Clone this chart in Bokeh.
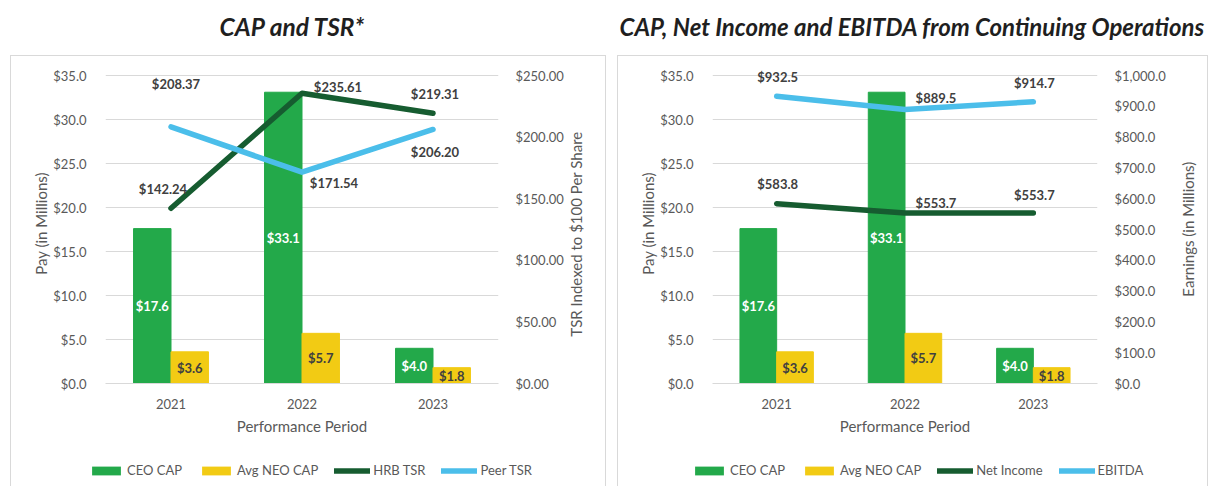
import math
import pandas as pd
from bokeh.plotting import figure
from bokeh.models import (ColumnDataSource, Range1d, LinearAxis, NumeralTickFormatter,
                          SingleIntervalTicker, FixedTicker, Legend, LegendItem, Spacer,
                          FactorRange)
from bokeh.transform import dodge
from bokeh.layouts import row, column
from bokeh.embed import file_html
from bokeh.resources import INLINE
from bokeh.core.properties import value

# ---------------- data ----------------
years = ["2021", "2022", "2023"]
ceo_cap = [17.6, 33.1, 4.0]
neo_cap = [3.6, 5.7, 1.8]
hrb_tsr = [142.24, 235.61, 219.31]
peer_tsr = [208.37, 171.54, 206.20]
net_income = [583.8, 553.7, 553.7]
ebitda = [932.5, 889.5, 914.7]

# ---------------- style ----------------
FONT = "Lato"
C_CEO = "#23A94A"
C_NEO = "#F2CB14"
C_DARK = "#165C30"
C_BLUE = "#4BBEEA"
GRID = "#D9D9D9"
TXT = "#595959"
LBL = "#404040"
BORDER = "1px solid #D9D9D9"

TITLE_H = 55
MAIN_H = 387
LEG_H = 44
FRAME_H = 320      # frame height in px
TOP_PAD = 12       # px of frame above the top gridline (room for labels)
MB_TOP = 7
PAY_MAX = 35
SCALE = FRAME_H / (FRAME_H - TOP_PAD)


def build_panel(title, title_offset, title_size, width, mb_left, mb_right,
                l1_name, l1_vals, l1_fmt, l1_off,
                l2_name, l2_vals, l2_fmt, l2_off,
                r_end, r_step, r_fmt, r_std, r_title, r_title_at, r_title_standoff,
                legend_x):
    src = pd.DataFrame({
        "year": years, "ceo": ceo_cap, "neo": neo_cap,
        "ceo_mid": [v / 2 for v in ceo_cap], "neo_mid": [v / 2 for v in neo_cap],
        "ceo_lbl": [f"${v:.1f}" for v in ceo_cap],
        "neo_lbl": [f"${v:.1f}" for v in neo_cap],
        "l1": l1_vals, "l2": l2_vals,
        "l1_lbl": [l1_fmt.format(v) for v in l1_vals],
        "l2_lbl": [l2_fmt.format(v) for v in l2_vals],
        "l1_dx": [o[0] for o in l1_off], "l1_dy": [o[1] for o in l1_off],
        "l2_dx": [o[0] for o in l2_off], "l2_dy": [o[1] for o in l2_off],
    })
    source = ColumnDataSource(src)

    # ---- title strip
    tf = figure(width=width + 2, height=TITLE_H, title=title, toolbar_location=None,
                output_backend="svg", x_axis_location=None, y_axis_location=None,
                min_border=0, min_border_top=42, outline_line_color=None)
    tf.grid.visible = False
    tf.title.align = "left"
    tf.title.offset = title_offset
    tf.title.text_font = FONT
    tf.title.text_font_style = "bold italic"
    tf.title.text_font_size = title_size
    tf.title.text_color = "#1F1F1F"
    tf.title.standoff = 4

    # ---- main chart
    p = figure(width=width, height=MAIN_H, x_range=years,
               y_range=Range1d(0, PAY_MAX * SCALE),
               toolbar_location=None, output_backend="svg",
               min_border_left=mb_left, min_border_right=mb_right,
               min_border_top=MB_TOP, min_border_bottom=MAIN_H - MB_TOP - FRAME_H,
               outline_line_color=None)
    p.styles = {"border-left": BORDER, "border-right": BORDER, "border-top": BORDER}
    p.extra_y_ranges = {"r": Range1d(0, r_end * SCALE)}

    p.vbar(x=dodge("year", -0.143, range=p.x_range), top="ceo", width=0.286,
           source=source, fill_color=C_CEO, line_color=C_CEO)
    p.vbar(x=dodge("year", 0.143, range=p.x_range), top="neo", width=0.286,
           source=source, fill_color=C_NEO, line_color=C_NEO)
    p.line(x="year", y="l1", source=source, y_range_name="r",
           line_color=C_DARK, line_width=5.5, line_cap="round", line_join="round")
    p.line(x="year", y="l2", source=source, y_range_name="r",
           line_color=C_BLUE, line_width=5.5, line_cap="round", line_join="round")

    # bar labels
    p.text(x=dodge("year", -0.143, range=p.x_range), y="ceo_mid", text="ceo_lbl",
           source=source, text_align="center", text_baseline="middle",
           text_font=value(FONT), text_font_style="bold", text_font_size="13px",
           text_color="white")
    p.text(x=dodge("year", 0.143, range=p.x_range), y="neo_mid", text="neo_lbl",
           source=source, text_align="center", text_baseline="middle",
           text_font=value(FONT), text_font_style="bold", text_font_size="13px",
           text_color=LBL)
    # line labels
    for col in ("l1", "l2"):
        p.text(x="year", y=col, text=col + "_lbl", source=source, y_range_name="r",
               x_offset=col + "_dx", y_offset=col + "_dy",
               text_align="center", text_baseline="middle",
               text_font=value(FONT), text_font_style="bold", text_font_size="13px",
               text_color=LBL)

    # axes
    yl = p.yaxis[0]
    yl.ticker = SingleIntervalTicker(interval=5)
    yl.formatter = NumeralTickFormatter(format="$0.0")
    yl.axis_label = "Pay (in Millions)"
    ra = LinearAxis(y_range_name="r", ticker=SingleIntervalTicker(interval=r_step),
                    formatter=NumeralTickFormatter(format=r_fmt))
    p.add_layout(ra, "right")
    # right-hand title, reading bottom-to-top
    rt = LinearAxis(y_range_name="r", ticker=FixedTicker(ticks=[r_title_at]),
                    major_label_overrides={r_title_at: r_title},
                    major_label_orientation=math.pi / 2)
    p.add_layout(rt, "right")
    xa = p.xaxis[0]
    xa.axis_label = "Performance Period"

    for ax in (yl, ra, rt, xa):
        ax.major_tick_line_color = None
        ax.minor_tick_line_color = None
        ax.major_label_text_font = FONT
        ax.major_label_text_font_size = "13px"
        ax.major_label_text_color = TXT
        ax.axis_label_text_font = FONT
        ax.axis_label_text_font_size = "15px"
        ax.axis_label_text_font_style = "normal"
        ax.axis_label_text_color = TXT
    rt.major_label_text_font_size = "15px"
    yl.axis_line_color = None
    ra.axis_line_color = None
    rt.axis_line_color = None
    xa.axis_line_color = GRID
    yl.major_label_standoff = 13
    ra.major_label_standoff = r_std
    rt.major_label_standoff = r_title_standoff
    xa.major_label_standoff = 9
    yl.axis_label_standoff = 0
    xa.axis_label_standoff = 5

    p.xgrid.grid_line_color = None
    p.ygrid.grid_line_color = GRID
    p.ygrid.grid_line_width = 1

    # ---- legend strip: keys come from the same series; the strip's own range
    # holds no year, so nothing but the legend is drawn here
    lf = figure(width=width, height=LEG_H, x_range=FactorRange(factors=["key"]),
                y_range=Range1d(-5001, -5000),
                toolbar_location=None, output_backend="svg",
                x_axis_location=None, y_axis_location=None, min_border=0,
                outline_line_color=None)
    lf.grid.visible = False
    lf.styles = {"border-left": BORDER, "border-right": BORDER}
    k_ceo = lf.vbar(x="year", top="ceo", width=0.286, source=source,
                    fill_color=C_CEO, line_color=None)
    k_neo = lf.vbar(x="year", top="neo", width=0.286, source=source,
                    fill_color=C_NEO, line_color=None)
    k_l1 = lf.line(x="year", y="l1", source=source, line_color=C_DARK,
                   line_width=5.5, line_cap="round")
    k_l2 = lf.line(x="year", y="l2", source=source, line_color=C_BLUE,
                   line_width=5.5, line_cap="round")
    legend = Legend(items=[LegendItem(label="CEO CAP", renderers=[k_ceo]),
                           LegendItem(label="Avg NEO CAP", renderers=[k_neo]),
                           LegendItem(label=l1_name, renderers=[k_l1]),
                           LegendItem(label=l2_name, renderers=[k_l2])],
                    orientation="horizontal", location=(legend_x, 6),
                    glyph_width=36, glyph_height=11, label_height=20,
                    label_standoff=3, spacing=16, padding=0, margin=0,
                    border_line_color=None, background_fill_alpha=0,
                    label_text_font=FONT, label_text_font_size="13px",
                    label_text_color=TXT)
    lf.add_layout(legend, "center")
    return column(tf, p, row(lf), spacing=0)


left = build_panel("CAP and TSR*", 115, "24.5px", 596, 94, 109,
                   "HRB TSR", hrb_tsr, "${:.2f}", [(-8, -19), (36, -6), (2, -19)],
                   "Peer TSR", peer_tsr, "${:.2f}", [(5, -43), (32, 11), (2, 23)],
                   250, 50, "$0.00", 11, "TSR Indexed to $100 Per Share", 38, 4, 77)
right = build_panel("CAP, Net Income and EBITDA from Continuing Operations", -92, "24px",
                    591, 94, 107,
                    "Net Income", net_income, "${:.1f}", [(1, -20), (31, -10), (1, -18)],
                    "EBITDA", ebitda, "${:.1f}", [(1, -19), (31, -12), (1, -19)],
                    1000, 100, "$0,0.0", 11, "Earnings (in Millions)", 282, 14, 73)

page = row(Spacer(width=10, height=10), left, Spacer(width=9, height=10), right, spacing=0)
open("out.html", "w").write(file_html(page, INLINE))
